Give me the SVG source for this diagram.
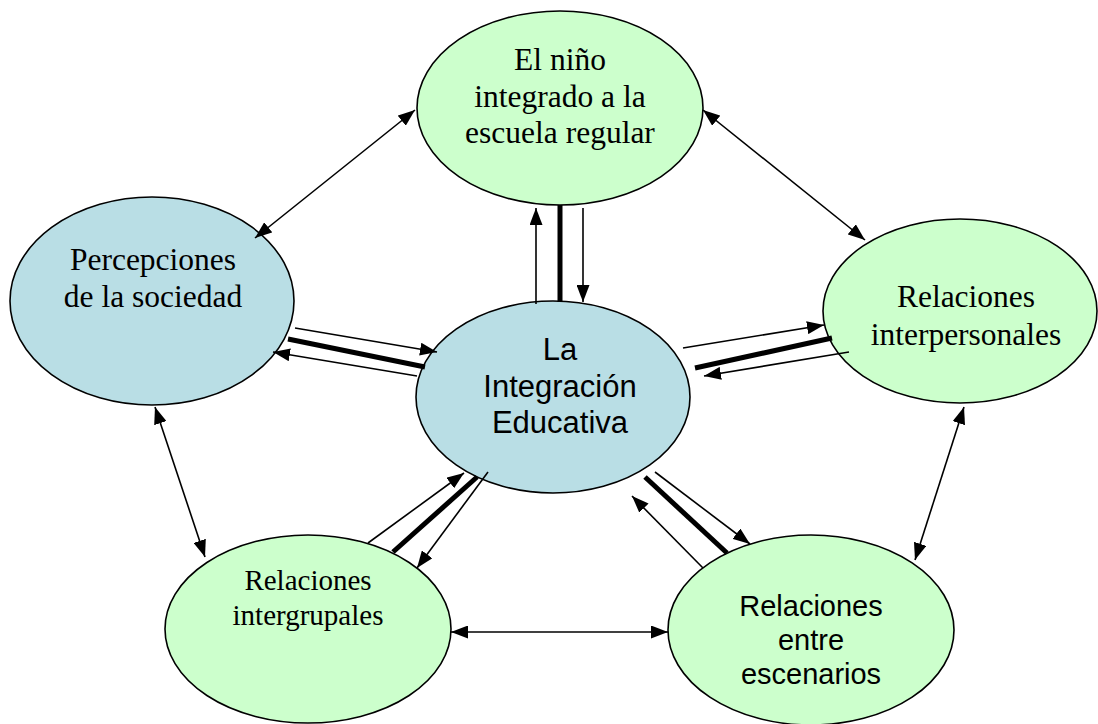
<svg xmlns="http://www.w3.org/2000/svg" width="1098" height="724" viewBox="0 0 1098 724">
<style>
.blue{fill:#b9dee5;stroke:#000;stroke-width:1.6}
.green{fill:#ccffcc;stroke:#000;stroke-width:1.6}
.serif{font-family:"Liberation Serif","Times New Roman",serif;fill:#000;text-anchor:middle}
.sans{font-family:"Liberation Sans",Arial,sans-serif;fill:#000;text-anchor:middle}
.thin{stroke:#000;stroke-width:1.6;fill:none}
.thick{stroke:#000;stroke-width:5;fill:none}
</style>
<defs>
<marker id="ah" viewBox="0 0 17 13" markerWidth="17" markerHeight="13" refX="17" refY="6.5" orient="auto-start-reverse" markerUnits="userSpaceOnUse">
<path d="M0,0 L17,6.5 L0,13 z" fill="#000"/>
</marker>
</defs>
<rect width="1098" height="724" fill="#fff"/>
<g id="nino">
<ellipse class="green" cx="560" cy="108" rx="143" ry="97"/>
<text class="serif" font-size="31.5" x="560" y="70">El niño</text>
<text class="serif" font-size="31.5" x="560" y="107">integrado a la</text>
<text class="serif" font-size="31.5" x="560" y="143">escuela regular</text>
</g>
<g id="percepciones">
<ellipse class="blue" cx="152" cy="301" rx="142" ry="104"/>
<text class="serif" font-size="31.5" x="153" y="270">Percepciones</text>
<text class="serif" font-size="31.5" x="153" y="307">de la sociedad</text>
</g>
<g id="interpersonales">
<ellipse class="green" cx="960" cy="311" rx="137" ry="92"/>
<text class="serif" font-size="31.5" x="966" y="307">Relaciones</text>
<text class="serif" font-size="31.5" x="966" y="345">interpersonales</text>
</g>
<g id="intergrupales">
<ellipse class="green" cx="308" cy="629" rx="143" ry="94"/>
<text class="serif" font-size="29" x="308" y="590">Relaciones</text>
<text class="serif" font-size="29" x="308" y="625">intergrupales</text>
</g>
<g id="escenarios">
<ellipse class="green" cx="811" cy="630" rx="143" ry="95"/>
<text class="sans" font-size="29" x="811" y="616">Relaciones</text>
<text class="sans" font-size="29" x="811" y="650">entre</text>
<text class="sans" font-size="29" x="811" y="684">escenarios</text>
</g>
<g id="integracion">
<ellipse class="blue" cx="553" cy="397" rx="137" ry="96"/>
<text class="sans" font-size="31" x="560" y="360">La</text>
<text class="sans" font-size="31" x="560" y="397">Integración</text>
<text class="sans" font-size="31" x="560" y="433">Educativa</text>
</g>
<g id="connectors">
<line class="thin" x1="415" y1="110" x2="255" y2="238" marker-start="url(#ah)" marker-end="url(#ah)"/>
<line class="thin" x1="703" y1="110" x2="865" y2="240" marker-start="url(#ah)" marker-end="url(#ah)"/>
<line class="thin" x1="155" y1="407" x2="205" y2="557" marker-start="url(#ah)" marker-end="url(#ah)"/>
<line class="thin" x1="964" y1="407" x2="915" y2="560" marker-start="url(#ah)" marker-end="url(#ah)"/>
<line class="thin" x1="451" y1="632" x2="668" y2="632" marker-start="url(#ah)" marker-end="url(#ah)"/>
<line class="thin" x1="536" y1="304" x2="536" y2="208" marker-end="url(#ah)"/>
<line class="thick" x1="560" y1="205" x2="560" y2="302"/>
<line class="thin" x1="583" y1="208" x2="583" y2="302" marker-end="url(#ah)"/>
<line class="thin" x1="295" y1="328" x2="437" y2="352" marker-end="url(#ah)"/>
<line class="thick" x1="288" y1="339" x2="425" y2="367"/>
<line class="thin" x1="417" y1="376" x2="273" y2="352" marker-end="url(#ah)"/>
<line class="thin" x1="683" y1="348" x2="824" y2="325" marker-end="url(#ah)"/>
<line class="thick" x1="695" y1="368" x2="832" y2="338"/>
<line class="thin" x1="849" y1="352" x2="704" y2="376" marker-end="url(#ah)"/>
<line class="thin" x1="368" y1="543" x2="464" y2="473" marker-end="url(#ah)"/>
<line class="thick" x1="393" y1="552" x2="477" y2="477"/>
<line class="thin" x1="488" y1="472" x2="417" y2="568" marker-end="url(#ah)"/>
<line class="thick" x1="645" y1="477" x2="727" y2="553"/>
<line class="thin" x1="655" y1="472" x2="750" y2="544" marker-end="url(#ah)"/>
<line class="thin" x1="703" y1="568" x2="632" y2="496" marker-end="url(#ah)"/>
</g>
</svg>
